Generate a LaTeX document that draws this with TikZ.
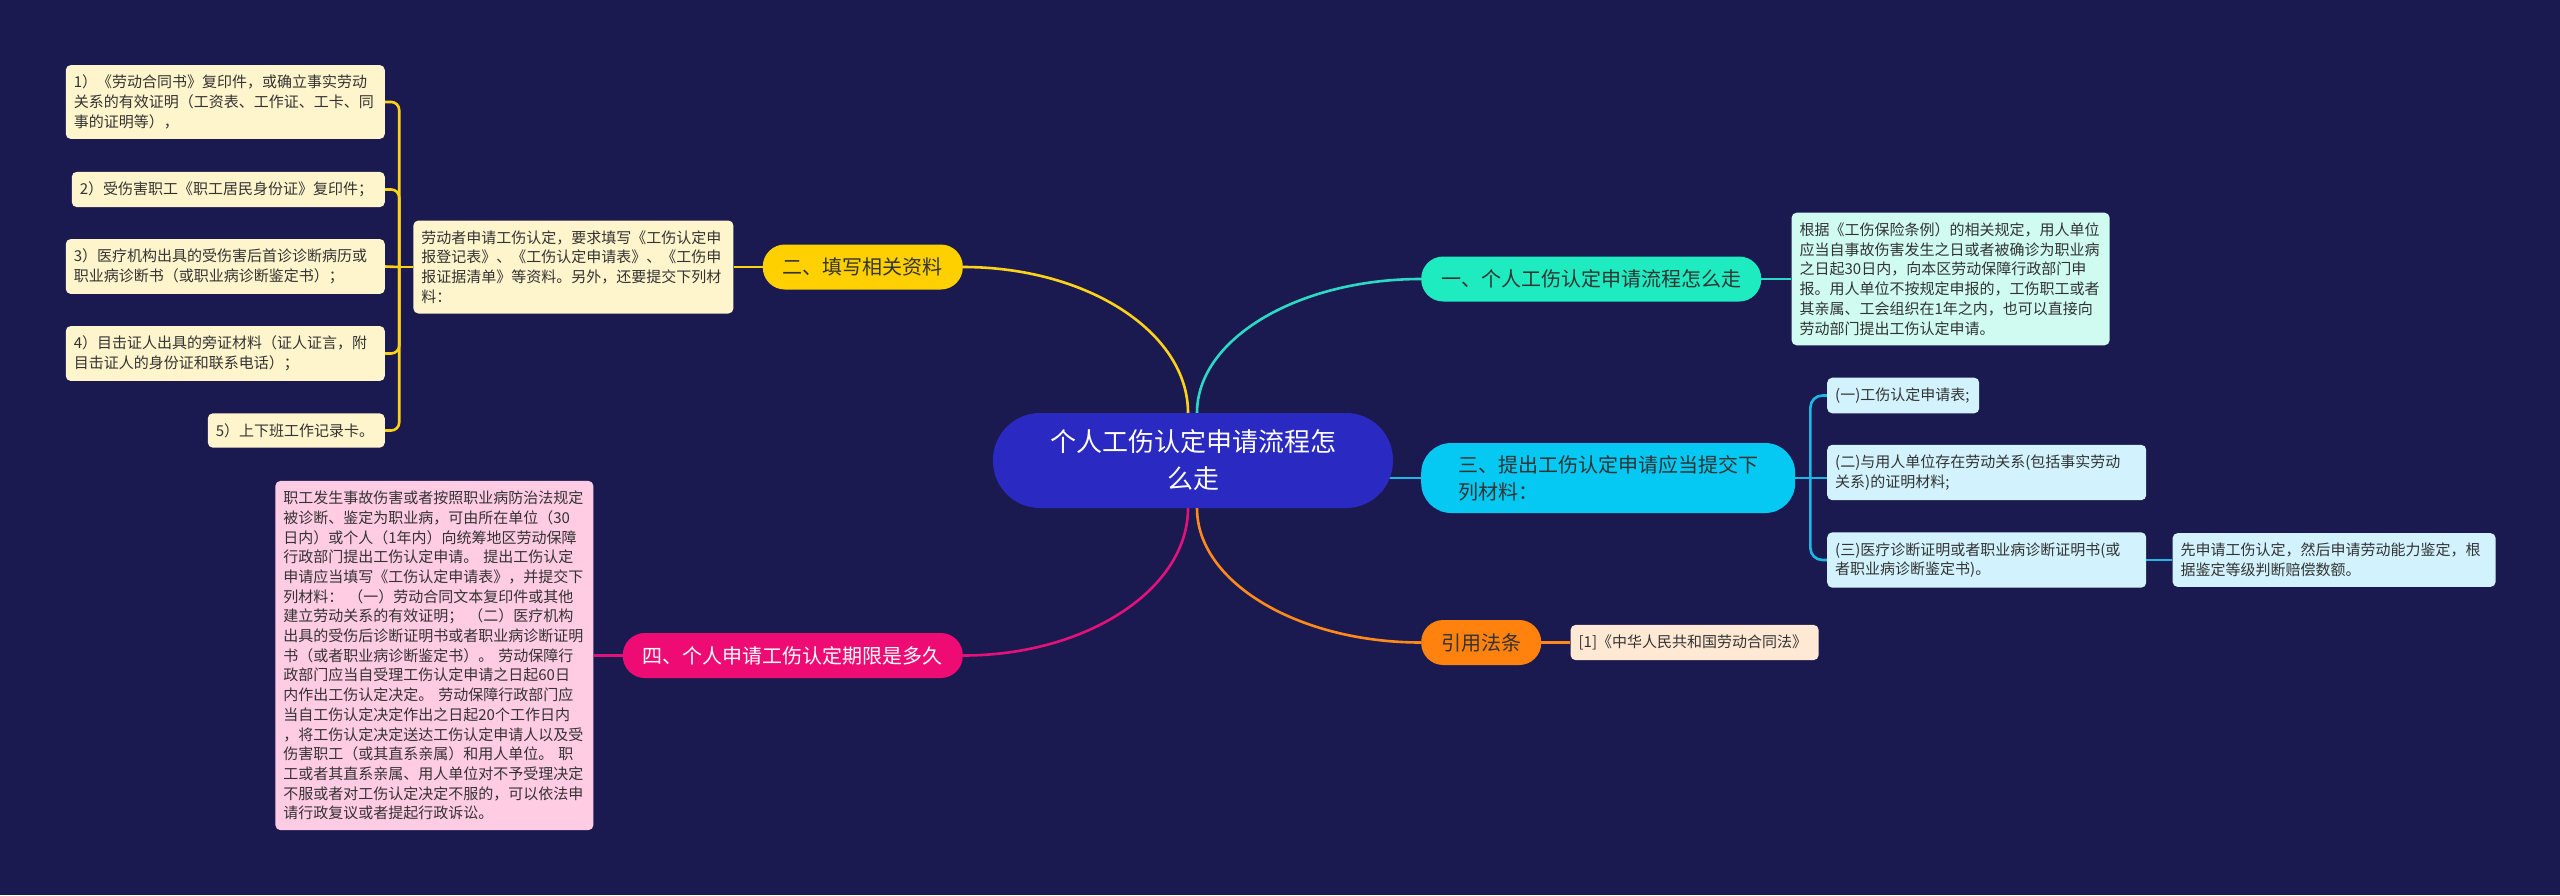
\documentclass[tikz,border=0pt]{standalone}
\usepackage{fontspec}
\setmainfont{Noto Sans CJK SC}
\usetikzlibrary{positioning,backgrounds}
\definecolor{bgnavy}{HTML}{1B1A50}
\definecolor{rootblue}{HTML}{2A2AC2}
\definecolor{darktext}{HTML}{333333}
\definecolor{yellowmain}{HTML}{FFD000}
\definecolor{yellowline}{HTML}{FFD21A}
\definecolor{yellowlight}{HTML}{FFF5CC}
\definecolor{tealmain}{HTML}{1EEBC0}
\definecolor{tealline}{HTML}{2CD9C5}
\definecolor{teallight}{HTML}{CFFBF1}
\definecolor{cyanmain}{HTML}{05C9F2}
\definecolor{cyanline}{HTML}{1EB8E6}
\definecolor{cyanlight}{HTML}{D2F3FD}
\definecolor{pinkmain}{HTML}{EE0C74}
\definecolor{pinkline}{HTML}{E2127A}
\definecolor{pinklight}{HTML}{FFCCE4}
\definecolor{orangemain}{HTML}{FF820F}
\definecolor{orangeline}{HTML}{FF8A1A}
\definecolor{orangelight}{HTML}{FFE9D4}

\begin{document}
\begin{tikzpicture}[x=1pt,y=-1pt,
      node distance=29pt,
      root/.style={rounded corners=47pt,fill=rootblue,text=white,align=center,minimum width=400pt,minimum height=95pt,font=\fontsize{26}{37}\selectfont},
      branch/.style={rounded corners=22pt,inner xsep=20pt,minimum height=45pt,text=darktext,font=\fontsize{20}{27}\selectfont},
      leaf/.style={rounded corners=5pt,inner xsep=8pt,inner ysep=10pt,align=left,text width=#1,text=darktext,font=\fontsize{15}{19.7}\selectfont},
      link/.style={line width=2.6pt}]
    \useasboundingbox (0,0) rectangle (2560,895);
    \node[root] (root) at (1193,460.5) {个人工伤认定申请流程怎\\么走};
    \node[branch,fill=yellowmain,anchor=east] (fillin) at (963,267) {二、填写相关资料};
    \node[branch,fill=tealmain,anchor=west] (howto) at (1421,279) {一、个人工伤认定申请流程怎么走};
    \node[branch,fill=cyanmain,anchor=west,align=left,text width=300pt,inner xsep=37pt,minimum height=70pt,rounded corners=30pt] (docs) at (1421,478)
      {三、提出工伤认定申请应当提交下\\列材料：};
    \node[branch,fill=pinkmain,text=white,anchor=east] (term) at (963,655.5) {四、个人申请工伤认定期限是多久};
    \node[branch,fill=orangemain,anchor=west] (law) at (1421,642.5) {引用法条};

    \node[leaf=304pt,fill=yellowlight,left=of fillin] (fillnote)
      {劳动者申请工伤认定，要求填写《工伤认定申\\报登记表》、《工伤认定申请表》、《工伤申\\报证据清单》等资料。另外，还要提交下列材\\料：};
    \node[leaf=303pt,fill=yellowlight,anchor=east] (itemA) at (385,102)
      {1）《劳动合同书》复印件，或确立事实劳动\\关系的有效证明（工资表、工作证、工卡、同\\事的证明等），};
    \node[leaf=297pt,fill=yellowlight,anchor=east] (itemB) at (385,189.5) {2）受伤害职工《职工居民身份证》复印件；};
    \node[leaf=303pt,fill=yellowlight,anchor=east] (itemC) at (385,266.5)
      {3）医疗机构出具的受伤害后首诊诊断病历或\\职业病诊断书（或职业病诊断鉴定书）；};
    \node[leaf=303pt,fill=yellowlight,anchor=east] (itemD) at (385,353.5)
      {4）目击证人出具的旁证材料（证人证言，附\\目击证人的身份证和联系电话）；};
    \node[leaf=161pt,fill=yellowlight,anchor=east] (itemE) at (385,430.5) {5）上下班工作记录卡。};

    \node[leaf=302pt,fill=teallight,right=30pt of howto] (hownote)
      {根据《工伤保险条例）的相关规定，用人单位\\应当自事故伤害发生之日或者被确诊为职业病\\之日起30日内，向本区劳动保障行政部门申\\报。用人单位不按规定申报的，工伤职工或者\\其亲属、工会组织在1年之内，也可以直接向\\劳动部门提出工伤认定申请。};

    \node[leaf=136pt,fill=cyanlight,anchor=west] (docA) at (1827,395.5) {(一)工伤认定申请表;};
    \node[leaf=303pt,fill=cyanlight,anchor=west] (docB) at (1827,472.5)
      {(二)与用人单位存在劳动关系(包括事实劳动\\关系)的证明材料;};
    \node[leaf=303pt,fill=cyanlight,anchor=west] (docC) at (1827,560)
      {(三)医疗诊断证明或者职业病诊断证明书(或\\者职业病诊断鉴定书)。};
    \node[leaf=307pt,fill=cyanlight,right=26pt of docC] (docCnote)
      {先申请工伤认定，然后申请劳动能力鉴定，根\\据鉴定等级判断赔偿数额。};

    \node[leaf=232pt,fill=orangelight,right=of law] (lawnote) {[1]《中华人民共和国劳动合同法》};

    \node[leaf=302pt,fill=pinklight,left=of term] (termnote)
      {职工发生事故伤害或者按照职业病防治法规定\\被诊断、鉴定为职业病，可由所在单位（30\\日内）或个人（1年内）向统筹地区劳动保障\\行政部门提出工伤认定申请。 提出工伤认定\\申请应当填写《工伤认定申请表》，并提交下\\列材料： （一）劳动合同文本复印件或其他\\建立劳动关系的有效证明； （二）医疗机构\\出具的受伤后诊断证明书或者职业病诊断证明\\书（或者职业病诊断鉴定书）。 劳动保障行\\政部门应当自受理工伤认定申请之日起60日\\内作出工伤认定决定。 劳动保障行政部门应\\当自工伤认定决定作出之日起20个工作日内\\，将工伤认定决定送达工伤认定申请人以及受\\伤害职工（或其直系亲属）和用人单位。 职\\工或者其直系亲属、用人单位对不予受理决定\\不服或者对工伤认定决定不服的，可以依法申\\请行政复议或者提起行政诉讼。};

    \coordinate (fillfork) at ([xshift=-14pt]fillnote.west);
    \coordinate (docsfork) at ([xshift=15pt]docs.east);

    \begin{scope}[on background layer]
      \fill[bgnavy] (0,0) rectangle (2560,895);
      \draw[link,yellowline] ([xshift=-5pt]root.north) .. controls +(0,-80) and +(125,0) .. (fillin.east);
      \draw[link,tealline] ([xshift=4pt]root.north) .. controls +(0,-74) and +(-123,0) .. (howto.west);
      \draw[link,cyanline] (root.center |- docs.west) -- (docs.west);
      \draw[link,pinkline] ([xshift=-5pt]root.south) .. controls +(0,80) and +(125,0) .. (term.east);
      \draw[link,orangeline] ([xshift=4pt]root.south) .. controls +(0,74) and +(-123,0) .. (law.west);

      \draw[link,yellowline] (fillin.west) -- (fillnote.east);
      \draw[link,yellowline] (fillnote.west) -- (fillfork);
      \draw[link,yellowline,rounded corners=8pt] (fillfork) |- (itemA.east);
      \draw[link,yellowline,rounded corners=8pt] (fillfork) |- (itemB.east);
      \draw[link,yellowline] (fillfork) -- (itemC.east);
      \draw[link,yellowline,rounded corners=8pt] (fillfork) |- (itemD.east);
      \draw[link,yellowline,rounded corners=8pt] (fillfork) |- (itemE.east);

      \draw[link,tealline] (howto.east) -- (hownote.west);

      \draw[link,cyanline] (docs.east) -- (docsfork);
      \draw[link,cyanline,rounded corners=12pt] (docsfork) |- (docA.west);
      \draw[link,cyanline] (docsfork) -- (docsfork -| docB.west);
      \draw[link,cyanline,rounded corners=12pt] (docsfork) |- (docC.west);
      \draw[link,cyanline] (docC.east) -- (docCnote.west);

      \draw[link,orangeline] (law.east) -- (lawnote.west);
      \draw[link,pinkline] (term.west) -- (termnote.east);
    \end{scope}
  \end{tikzpicture}
\end{document}
